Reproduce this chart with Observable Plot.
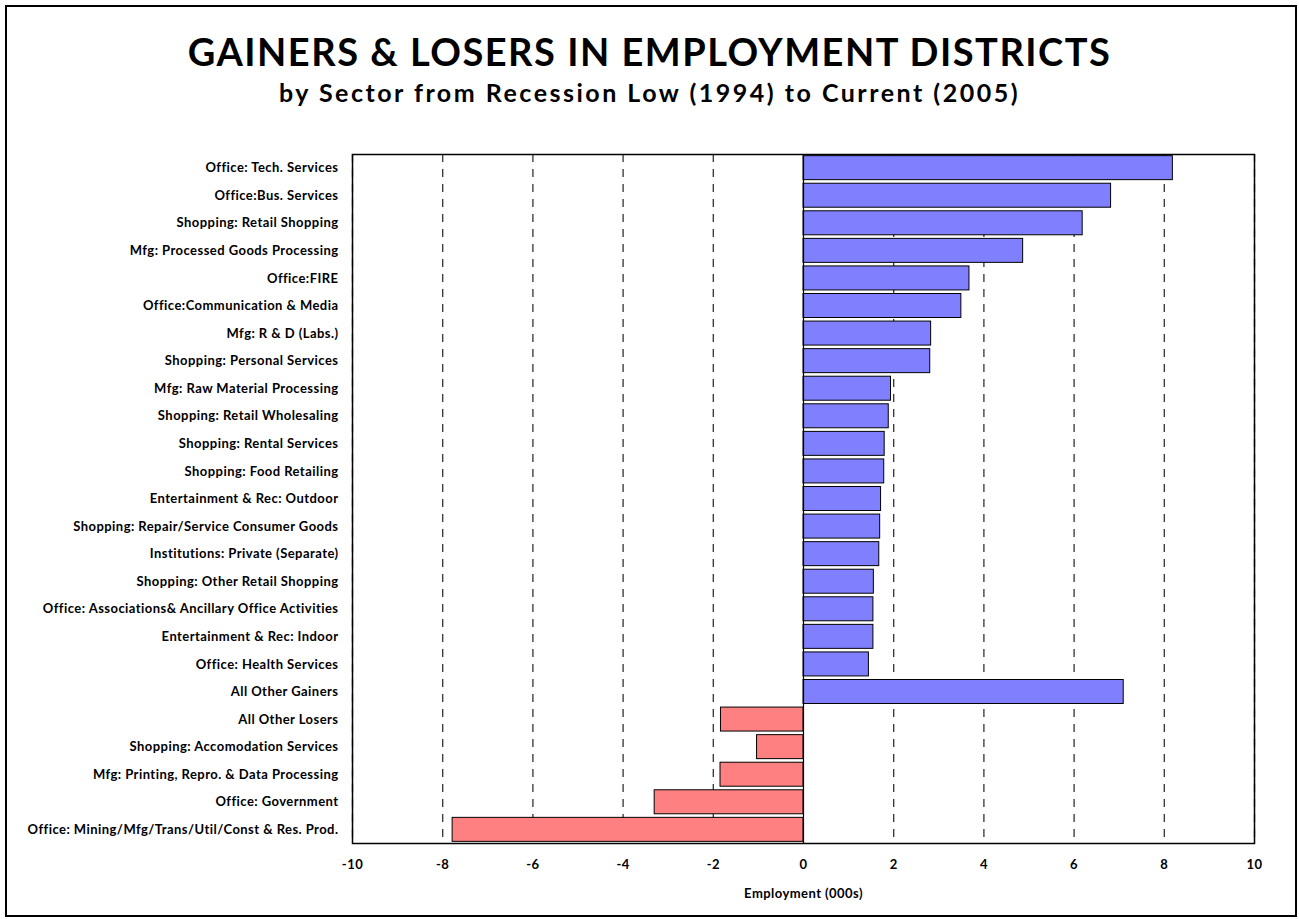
<!DOCTYPE html>
<html>
<head>
<meta charset="utf-8">
<script src="https://cdn.jsdelivr.net/npm/d3@7"></script>
<script src="https://cdn.jsdelivr.net/npm/@observablehq/plot@0.6"></script>
<style>
  html, body { margin: 0; padding: 0; background: #fff; }
  #wrap { position: relative; width: 1299px; height: 919px; font-family: Lato, "Open Sans", sans-serif; }
  #frame { position: absolute; left: 5px; top: 5px; width: 1288px; height: 908px; border: 2px solid #000; pointer-events: none; }
  #header { position: relative; height: 140px; }
  #title { position: absolute; left: 0; width: 1299px; top: 32px; text-align: center; font-weight: 700; font-size: 38px; line-height: 38px; letter-spacing: 1.5px; color: #000; }
  #subtitle { position: absolute; left: 0; width: 1299px; top: 80px; text-align: center; font-weight: 700; font-size: 25px; line-height: 25px; letter-spacing: 2.5px; color: #000; }
  #chart svg { display: block; }
  #chart svg text { letter-spacing: 0.45px; }
</style>
</head>
<body>
<div id="wrap">
  <div id="header">
    <div id="title">GAINERS &amp; LOSERS IN EMPLOYMENT DISTRICTS</div>
    <div id="subtitle">by Sector from Recession Low (1994) to Current (2005)</div>
  </div>
  <div id="chart"></div>
  <div id="frame"></div>
</div>
<script>
const sectors = [
  "Office: Tech. Services",
  "Office:Bus. Services",
  "Shopping: Retail Shopping",
  "Mfg: Processed Goods Processing",
  "Office:FIRE",
  "Office:Communication & Media",
  "Mfg: R & D (Labs.)",
  "Shopping: Personal Services",
  "Mfg: Raw Material Processing",
  "Shopping: Retail Wholesaling",
  "Shopping: Rental Services",
  "Shopping: Food Retailing",
  "Entertainment & Rec: Outdoor",
  "Shopping: Repair/Service Consumer Goods",
  "Institutions: Private (Separate)",
  "Shopping: Other Retail Shopping",
  "Office: Associations& Ancillary Office Activities",
  "Entertainment & Rec: Indoor",
  "Office: Health Services",
  "All Other Gainers",
  "All Other Losers",
  "Shopping: Accomodation Services",
  "Mfg: Printing, Repro. & Data Processing",
  "Office: Government",
  "Office: Mining/Mfg/Trans/Util/Const & Res. Prod."
];
const employmentChange = [
  8.19, 6.82, 6.19, 4.87, 3.68, 3.50, 2.83, 2.81, 1.94, 1.89,
  1.80, 1.79, 1.72, 1.70, 1.68, 1.56, 1.55, 1.55, 1.45, 7.10,
  -1.83, -1.03, -1.84, -3.30, -7.78
];
const xTicks = [-10, -8, -6, -4, -2, 0, 2, 4, 6, 8, 10];
const gridValues = [-10, -8, -6, -4, -2, 2, 4, 6, 8, 10];

const data = sectors.map((name, i) => ({name, value: employmentChange[i]}));

const chart = Plot.plot({
  width: 1299,
  height: 779,
  marginTop: 14,
  marginBottom: 76,
  marginLeft: 352,
  marginRight: 45,
  style: {fontFamily: "Lato, 'Open Sans', sans-serif", fontWeight: "bold", fontSize: "13px", color: "#000", background: "white"},
  x: {domain: [-10, 10]},
  y: {domain: sectors, paddingInner: 0.13, paddingOuter: 0.06, round: false},
  marks: [
    Plot.ruleX(gridValues, {stroke: "#333", strokeWidth: 1.3, strokeDasharray: "8,7"}),
    Plot.barX(data, {
      x: "value",
      y: "name",
      fill: d => d.value > 0 ? "#8080FF" : "#FF8080",
      stroke: "#000",
      strokeWidth: 1
    }),
    Plot.ruleX([0], {stroke: "#000", strokeWidth: 1.2}),
    Plot.frame({stroke: "#000", strokeWidth: 1.5}),
    Plot.axisX({
      ticks: xTicks,
      tickSize: 0,
      tickPadding: 16,
      tickFormat: d => String(d),
      label: "Employment (000s)",
      labelAnchor: "center",
      labelArrow: "none",
      labelOffset: 54,
      fontSize: 13,
      fontWeight: "bold"
    }),
    Plot.axisY({
      tickSize: 0,
      tickPadding: 14,
      label: null,
      fontSize: 13,
      fontWeight: "bold"
    })
  ]
});
document.getElementById("chart").appendChild(chart);
</script>
</body>
</html>
